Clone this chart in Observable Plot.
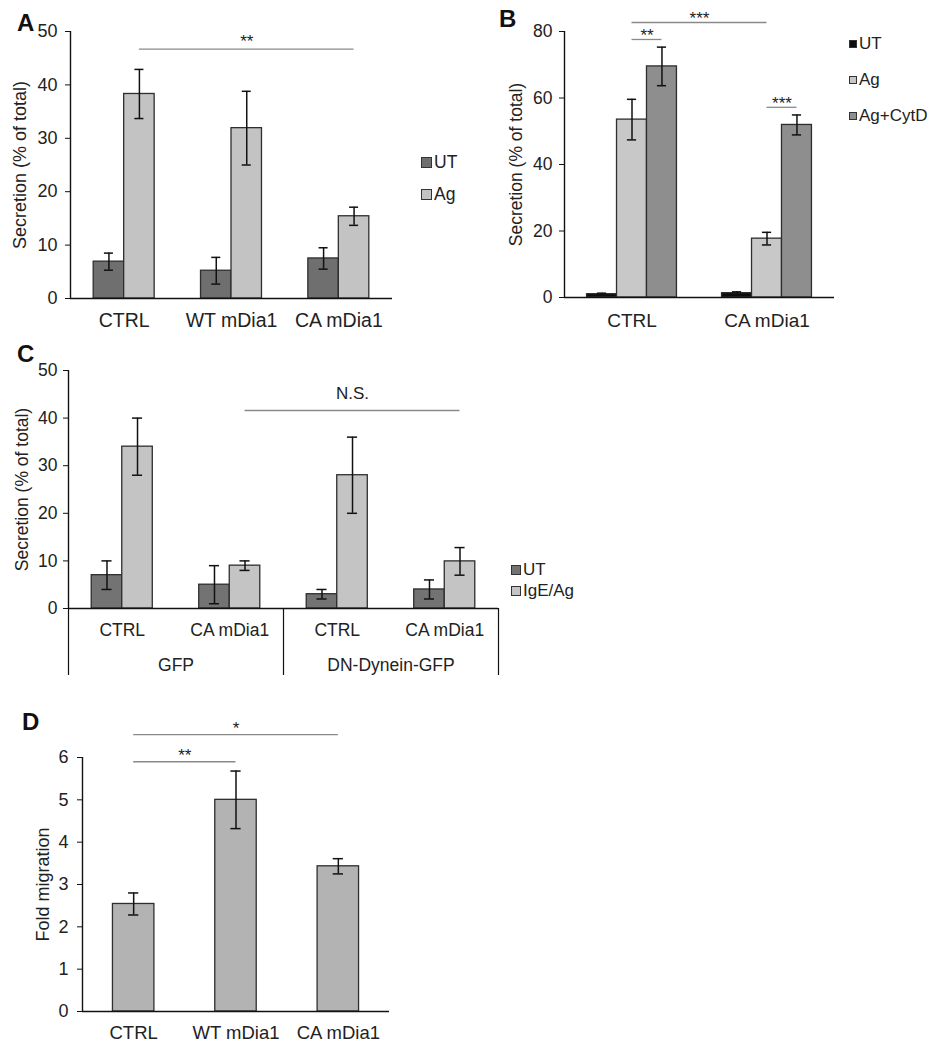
<!DOCTYPE html>
<html><head><meta charset="utf-8">
<script src="https://cdn.jsdelivr.net/npm/d3@7"></script>
<script src="https://cdn.jsdelivr.net/npm/@observablehq/plot@0.6"></script>
<style>
body{margin:0;background:#fff;font-family:"Liberation Sans",Arial,sans-serif;}
#fig{position:relative;width:934px;height:1050px;overflow:hidden;background:#fff;}
.panel{position:absolute;}
.letter{position:absolute;font-weight:bold;font-size:24px;line-height:24px;color:#111;}
.legend{position:absolute;color:#222;}
.legend .row{display:flex;align-items:center;}
.legend .sw{display:inline-block;border:1px solid #333;box-sizing:border-box;margin-right:2px;}
</style></head><body><div id="fig"></div><script>
const FONT = '"Liberation Sans", Arial, sans-serif';

// ---------- Panel A ----------
const aGroups = ["CTRL", "WT mDia1", "CA mDia1"];
const aSeries = ["UT", "Ag"];
const aUT = [6.9, 5.2, 7.5];
const aUTerr = [1.6, 2.5, 2.0];
const aAg = [38.3, 31.9, 15.4];
const aAgErr = [4.6, 6.9, 1.7];
const aTicks = [0, 10, 20, 30, 40, 50];
const aSig = [{from: [0, 1], to: [2, 1], y: 46.7, label: "**"}];

// ---------- Panel B ----------
const bGroups = ["CTRL", "CA mDia1"];
const bSeries = ["UT", "Ag", "Ag+CytD"];
const bUT = [1.0, 1.3];
const bUTerr = [0.3, 0.4];
const bAg = [53.5, 17.7];
const bAgErr = [6.1, 1.9];
const bCyt = [69.5, 51.9];
const bCytErr = [5.8, 3.0];
const bTicks = [0, 20, 40, 60, 80];
const bSig = [
  {from: [0, 1], to: [0, 2], y: 77.6, label: "**"},
  {from: [0, 1], to: [1, 1], y: 82.7, label: "***"},
  {from: [1, 1], to: [1, 2], y: 57.2, label: "***"}
];

// ---------- Panel C ----------
const cGroups = ["CTRL", "CA mDia1", "CTRL", "CA mDia1"];
const cOuter = ["GFP", "DN-Dynein-GFP"];
const cSeries = ["UT", "IgE/Ag"];
const cUT = [7, 5, 3, 4];
const cUTerr = [3, 4, 1, 2];
const cAg = [34, 9, 28, 9.9];
const cAgErr = [6, 1, 8, 2.9];
const cTicks = [0, 10, 20, 30, 40, 50];
const cSig = [{from: [1, 1], to: [3, 1], y: 41.6, label: "N.S."}];

// ---------- Panel D ----------
const dGroups = ["CTRL", "WT mDia1", "CA mDia1"];
const dSeries = ["Fold migration"];
const dVal = [2.54, 5.0, 3.43];
const dErr = [0.26, 0.68, 0.18];
const dTicks = [0, 1, 2, 3, 4, 5, 6];
const dSig = [
  {from: [0, 0], to: [2, 0], y: 6.54, label: "*"},
  {from: [0, 0], to: [1, 0], y: 5.9, label: "**"}
];

const fig = document.getElementById("fig");

function barPanel(cfg) {
  const {groups, series, values, errors, colors, ticks, sig, barW, capW} = cfg;
  const n = series.length;
  const pos = (g, s) => g + (s - (n - 1) / 2) * barW;
  const data = [];
  groups.forEach((gn, g) => series.forEach((sn, s) =>
    data.push({g, s, series: sn, v: values[s][g], e: errors[s][g], x: pos(g, s)})));
  const caps = data.flatMap(d => [{x: d.x, y: d.v - d.e}, {x: d.x, y: d.v + d.e}]);
  const sigData = sig.map(d => ({x1: pos(...d.from), x2: pos(...d.to), y: d.y, label: d.label}));
  const xDom = [-0.5, groups.length - 0.5];
  const yDom = [ticks[0], ticks[ticks.length - 1]];
  const plot = Plot.plot({
    width: cfg.width, height: cfg.height,
    marginLeft: cfg.ml, marginRight: cfg.mr, marginTop: cfg.mt, marginBottom: cfg.mb,
    style: {fontFamily: FONT, background: "transparent", color: "#222", overflow: "visible"},
    x: {domain: xDom},
    y: {domain: yDom},
    color: {domain: series, range: colors},
    marks: [
      Plot.rectY(data, {x1: d => d.x - barW / 2, x2: d => d.x + barW / 2, y1: 0, y2: "v",
        fill: "series", stroke: "#2e2e2e", strokeWidth: 1.3}),
      Plot.ruleX(data, {x: "x", y1: d => d.v - d.e, y2: d => d.v + d.e, stroke: "#111", strokeWidth: 1.5}),
      Plot.ruleY(caps, {y: "y", x1: d => d.x - capW, x2: d => d.x + capW, stroke: "#111", strokeWidth: 1.5}),
      Plot.ruleY([yDom[0]], {stroke: "#111", strokeWidth: 1.4}),
      Plot.ruleX([xDom[0]], {y1: yDom[0], y2: yDom[1], stroke: "#111", strokeWidth: 1.4}),
      Plot.ruleY(sigData, {y: "y", x1: "x1", x2: "x2", stroke: "#8a8a8a", strokeWidth: 1.3}),
      Plot.text(sigData, {x: d => (d.x1 + d.x2) / 2, y: "y", text: "label", lineAnchor: "middle",
        dy: cfg.sigDy, fontSize: cfg.sigFont, fill: "#222"}),
      Plot.axisY({ticks, tickFormat: d3.format("~g"), tickSize: 5, tickPadding: cfg.tickPad, stroke: "#111",
        fontSize: cfg.tickFont, label: cfg.yLabel, labelAnchor: "center", labelOffset: cfg.labelOffset,
        labelArrow: "none"}),
      Plot.axisX({ticks: groups.map((_, i) => i), tickFormat: i => groups[i], tickSize: 0,
        tickPadding: cfg.xPad, fontSize: cfg.xFont, label: null}),
      ...(cfg.extra || [])
    ]
  });
  plot.classList.add("panel");
  plot.style.left = cfg.left + "px";
  plot.style.top = cfg.top + "px";
  fig.appendChild(plot);
}

function letter(t, left, top) {
  const d = document.createElement("div");
  d.className = "letter"; d.textContent = t;
  d.style.left = left + "px"; d.style.top = top + "px";
  fig.appendChild(d);
}

function legend(names, colors, left, top, rowH, sw, fs) {
  const d = document.createElement("div");
  d.className = "legend";
  d.style.left = left + "px"; d.style.top = top + "px"; d.style.fontSize = fs + "px";
  names.forEach((nm, i) => {
    const r = document.createElement("div");
    r.className = "row"; r.style.height = rowH + "px";
    const s = document.createElement("span");
    s.className = "sw"; s.style.width = sw + "px"; s.style.height = sw + "px"; s.style.background = colors[i];
    const t = document.createElement("span"); t.textContent = nm;
    r.appendChild(s); r.appendChild(t); d.appendChild(r);
  });
  fig.appendChild(d);
}

const aColors = ["#6f6f6f", "#c3c3c3"];
const bColors = ["#0d0d0d", "#c8c8c8", "#8e8e8e"];
const cColors = ["#737373", "#c4c4c4"];
const dColors = ["#b3b3b3"];

// A
barPanel({groups: aGroups, series: aSeries, values: [aUT, aAg], errors: [aUTerr, aAgErr], colors: aColors,
  ticks: aTicks, sig: aSig, barW: 0.284, capW: 0.042,
  left: 0, top: 0, width: 400, height: 335, ml: 70, mr: 8, mt: 31, mb: 37,
  tickPad: 8, tickFont: 18, yLabel: "Secretion (% of total)", labelOffset: 57,
  xPad: 15, xFont: 19.5, sigFont: 17, sigDy: -8});
letter("A", 17, 11);
legend(aSeries, aColors, 421, 146, 32, 11, 17.5);

// B
barPanel({groups: bGroups, series: bSeries, values: [bUT, bAg, bCyt], errors: [bUTerr, bAgErr, bCytErr], colors: bColors,
  ticks: bTicks, sig: bSig, barW: 0.222, capW: 0.034,
  left: 470, top: 0, width: 370, height: 335, ml: 94, mr: 6, mt: 31, mb: 38,
  tickPad: 7, tickFont: 17.5, yLabel: "Secretion (% of total)", labelOffset: 55,
  xPad: 16, xFont: 19, sigFont: 17, sigDy: -4});
letter("B", 499, 7);
legend(bSeries, bColors, 849, 26, 36, 8, 17);

// C
barPanel({groups: cGroups, series: cSeries, values: [cUT, cAg], errors: [cUTerr, cAgErr], colors: cColors,
  ticks: cTicks, sig: cSig, barW: 0.284, capW: 0.047,
  left: 0, top: 330, width: 510, height: 350, ml: 68, mr: 12, mt: 40, mb: 72,
  tickPad: 6, tickFont: 17.5, yLabel: "Secretion (% of total)", labelOffset: 53,
  xPad: 15, xFont: 17.5, sigFont: 17, sigDy: -17,
  extra: [
    Plot.axisX({ticks: d3.range(0, cGroups.length + 1, 2).map(i => i - 0.5), tickSize: 67,
      tickFormat: () => "", stroke: "#111", strokeWidth: 1.2, label: null}),
    Plot.axisX({ticks: cOuter.map((_, k) => 2 * k + 0.5), tickFormat: v => cOuter[(v - 0.5) / 2],
      tickSize: 0, tickPadding: 50, fontSize: 17.5, label: null})
  ]});
letter("C", 17, 342);
legend(cSeries, cColors, 511, 559, 21, 10, 17);

// D
barPanel({groups: dGroups, series: dSeries, values: [dVal], errors: [dErr], colors: dColors,
  ticks: dTicks, sig: dSig, barW: 0.405, capW: 0.05,
  left: 0, top: 690, width: 400, height: 355, ml: 82, mr: 11, mt: 67, mb: 34,
  tickPad: 9, tickFont: 18, yLabel: "Fold migration", labelOffset: 46,
  xPad: 14, xFont: 18.5, sigFont: 17, sigDy: -6});
letter("D", 22, 710);
</script></body></html>
